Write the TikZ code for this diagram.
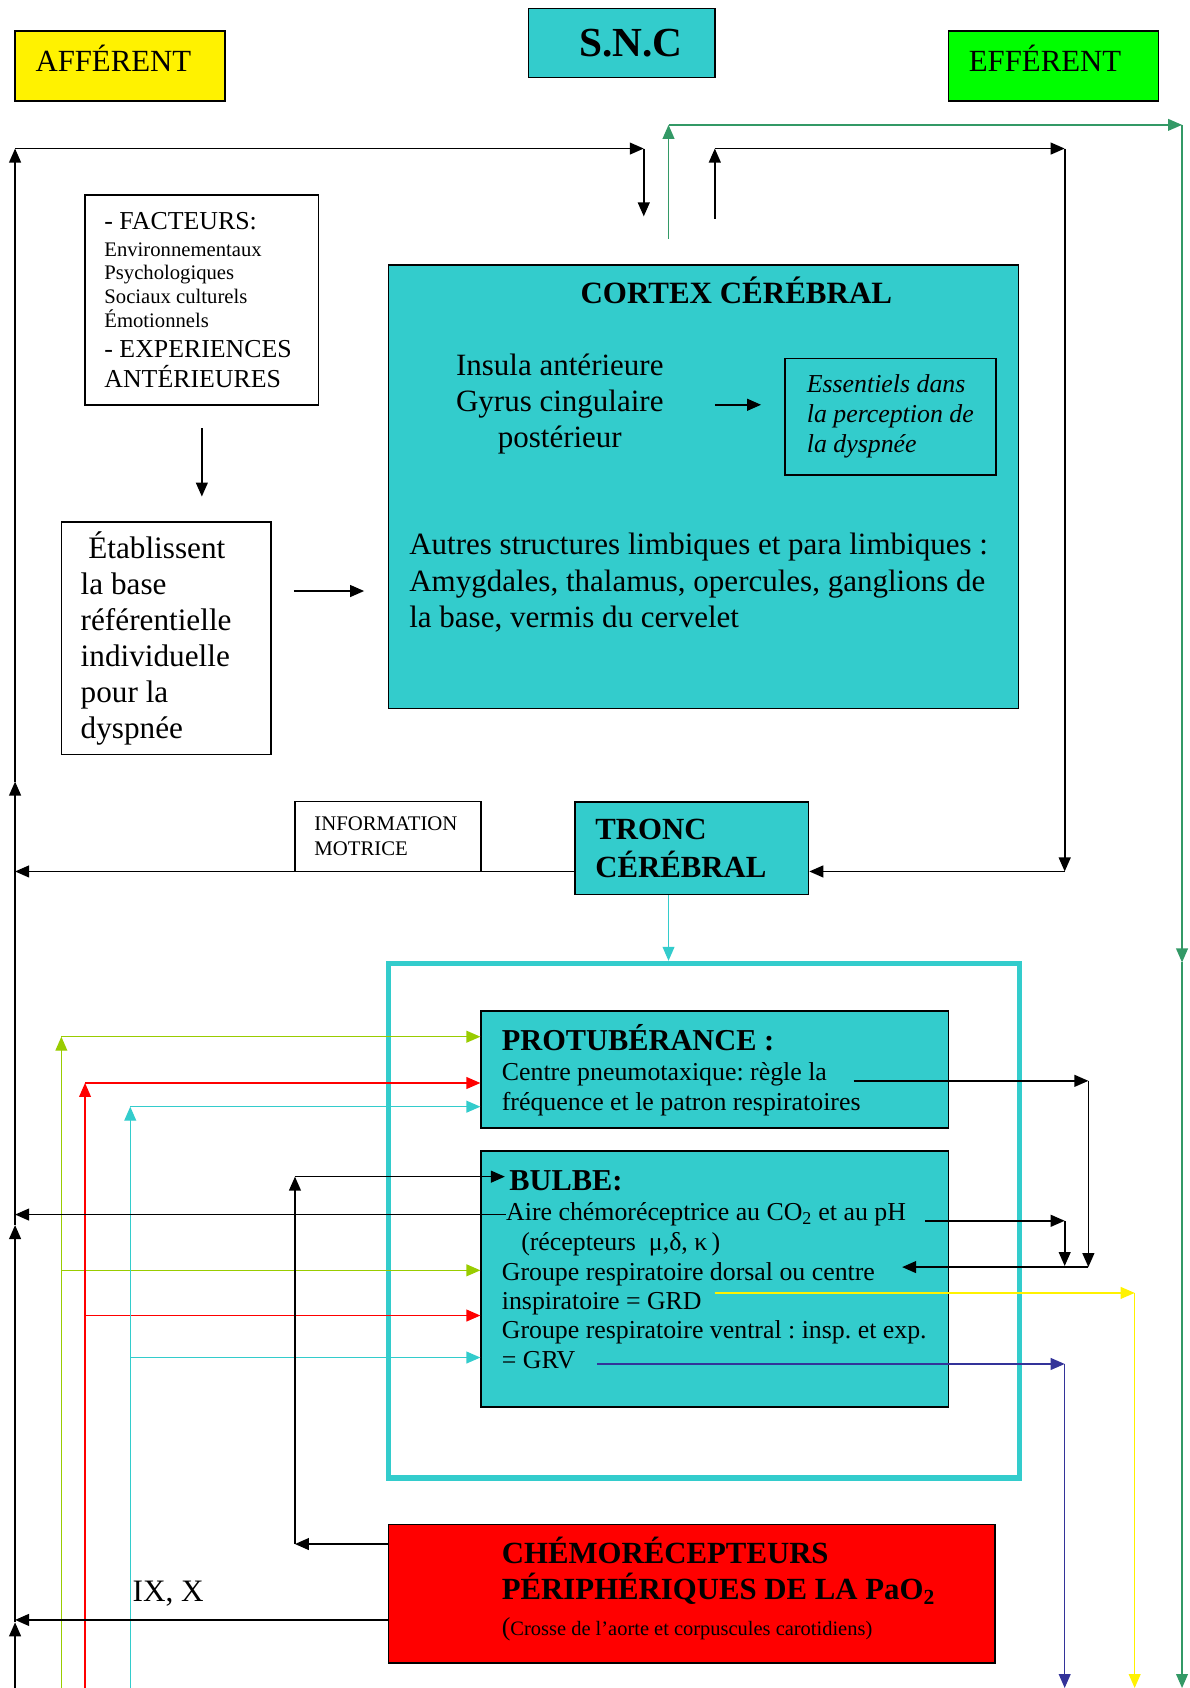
\documentclass[tikz,border=0pt]{standalone}
\usepackage{fontspec}
\setmainfont{Liberation Serif}
\usetikzlibrary{arrows.meta,positioning}
\frenchspacing

\definecolor{snccyan}{HTML}{33CCCC}
\definecolor{yelgreen}{HTML}{99CC00}
\definecolor{effgreen}{HTML}{339966}
\definecolor{grvblue}{HTML}{333399}

\newcommand{\wsp}{\spaceskip=0.25em minus 0.05em\relax}
\newcommand{\fsbig}{\fontsize{28.8pt}{33.5pt}\selectfont\wsp}
\newcommand{\fsmid}{\fontsize{24pt}{28pt}\selectfont\wsp}
\newcommand{\fssmall}{\fontsize{19.2pt}{22pt}\selectfont\wsp}

\begin{document}
\begin{tikzpicture}[x=1pt, y=-1pt, >={Triangle[length=13pt,width=11pt]},
  box/.style={draw, line width=1.5pt, inner ysep=0pt, align=left},
  txt/.style={anchor=base west, inner sep=0pt, align=left},
  arr/.style={->, line width=1.5pt},
  ygarr/.style={->, line width=1.2pt, yelgreen},
  rdarr/.style={->, line width=1.2pt, red},
  cyarr/.style={->, line width=1.2pt, snccyan},
  yearr/.style={->, line width=1.2pt, yellow},
  nvarr/.style={->, line width=1.2pt, grvblue},
  grarr/.style={->, line width=1.2pt, effgreen}]

  \useasboundingbox (0,0) rectangle (1105,1568);

  % en-tete
  \node[box, fill=yellow, text width=157pt, inner xsep=19pt, minimum height=65pt, text height=26pt, text depth=16pt, font=\fontsize{28.6pt}{33pt}\selectfont] (aff) at (111.5,61.5) {AFFÉRENT};
  \node[box, fill=snccyan, text width=113pt, inner xsep=30pt, align=right, minimum height=64pt, font=\fontsize{38.4pt}{44pt}\selectfont\bfseries] (snc) at (577.5,40) {S.N.C};
  \node[box, fill=green, text width=157pt, inner xsep=19pt, minimum height=65pt, text height=26pt, text depth=16pt, font=\fontsize{28.6pt}{33pt}\selectfont] (eff) at (978.5,61.5) {EFFÉRENT};

  % facteurs
  \node[box, text width=181pt, inner xsep=18pt, minimum height=195pt] (fact) at (187.5,278.5) {\fsmid -\hspace{6pt}FACTEURS:\\[3pt]\fssmall Environnementaux\\Psychologiques\\Sociaux culturels\\Émotionnels\\\fsmid -\hspace{6pt}EXPERIENCES\\[6pt]ANTÉRIEURES\fontsize{24pt}{22pt}\selectfont};
  \node[box, text width=159pt, inner xsep=18pt, minimum height=216pt, font=\fontsize{29pt}{33.4pt}\selectfont] (etab) at (154.5,593) {\wsp\hspace*{7pt}Établissent\\la base\\référentielle\\individuelle\\pour la\\dyspnée};

  % cortex
  \node[box, fill=snccyan, minimum width=585pt, minimum height=412pt] (cortex) at (653.5,452) {};
  \node[txt, anchor=base, font=\fsbig\bfseries] (cortitle) at (684,282) {CORTEX CÉRÉBRAL};
  \node[txt, anchor=base, text width=230pt, align=center, font=\fsbig] (insula) at (520,349) {\wsp Insula antérieure\\Gyrus cingulaire\\postérieur};
  \node[box, inner xsep=0pt, minimum width=196pt, minimum height=108pt, font=\fsmid\itshape] (ess) at (827,387) {Essentiels dans\\la perception de\\la dyspnée};
  \node[txt, text width=560pt, font=\fsbig] (autres) at (380,515.5) {\wsp Autres structures limbiques et para limbiques :\\Amygdales, thalamus, opercules, ganglions de\\la base, vermis du cervelet};

  % tronc
  \node[box, fill=white, text width=137pt, inner xsep=18pt, minimum height=65pt, font=\fontsize{19.3pt}{23pt}\selectfont] (info) at (360.5,777) {INFORMATION\\MOTRICE};
  \node[box, fill=snccyan, text width=179pt, inner xsep=19pt, minimum height=86pt, font=\fontsize{28.6pt}{35pt}\selectfont\bfseries] (tronc) at (642.5,788) {TRONC\\CÉRÉBRAL};

  % protuberance et bulbe
  \node[draw=snccyan, line width=5pt, minimum width=586pt, minimum height=478pt] (frame) at (654,1134) {};
  \node[box, fill=snccyan, minimum width=434pt, minimum height=109pt] (prot) at (664,993.5) {};
  \node[txt, font=\fontsize{28.2pt}{33pt}\selectfont\bfseries] (protitle) at (466,976) {\wsp PROTUBÉRANCE :};
  \node[txt, text width=400pt, font=\fsmid] (pneumo) at (466,1004) {\wsp Centre pneumotaxique: règle la\\fréquence et le patron respiratoires};
  \node[box, fill=snccyan, minimum width=434pt, minimum height=238pt] (bulbe) at (664,1188) {};
  \node[txt, font=\fontsize{28.2pt}{33pt}\selectfont\bfseries] (bultitle) at (473,1106) {BULBE:};
  \node[txt, font=\fsmid] (aire) at (470,1134) {\wsp Aire chémoréceptrice au CO\textsubscript{2} et au pH};
  \node[txt, font=\fsmid] (recep) at (484,1162) {\wsp(récepteurs\ \ μ,δ, κ\,)};
  \node[txt, text width=440pt, font=\fontsize{24pt}{27.3pt}\selectfont] (groupes) at (466,1189) {\wsp Groupe respiratoire dorsal ou centre\\inspiratoire = GRD\\Groupe respiratoire ventral : insp. et exp.\\= GRV};

  % chemorecepteurs
  \node[box, fill=red, minimum width=563pt, minimum height=129pt] (chemo) at (642.5,1480.5) {};
  \node[txt, text width=440pt, font=\fontsize{28.6pt}{34pt}\selectfont\bfseries] (chemotext) at (466,1452) {\wsp CHÉMORÉCEPTEURS\\PÉRIPHÉRIQUES DE LA PaO\textsubscript{2}\par{\normalfont\fontsize{24pt}{33pt}\selectfont(\fontsize{19pt}{33pt}\selectfont\wsp Crosse de l’aorte et corpuscules carotidiens)\par}};
  \node[txt, font=\fontsize{29pt}{33pt}\selectfont] (nerfs) at (123,1488) {\wsp IX, X};

  % points de passage
  \coordinate (lbot) at (14,1568);
  \coordinate (lup1) at (14,1507);
  \coordinate (lup2) at (14,1138);
  \coordinate (lup3) at (14,726);
  \coordinate (ltop) at (14,138);
  \coordinate (sncin) at (598,138);
  \coordinate (sncdown) at (598,201);
  \coordinate (sncout) at (664,203);
  \coordinate (sncup) at (664,138);
  \coordinate (rtop) at (989,138);
  \coordinate (rdown) at (989,809.5);
  \coordinate (grbase) at (621,222);
  \coordinate (grup) at (621,116);
  \coordinate (grtop) at (1098,116);
  \coordinate (grmid) at (1098,894);
  \coordinate (grbot) at (1098,1568);
  \coordinate (insa) at (664,376);
  \coordinate (insb) at (707,376);
  \coordinate (etabout) at (273,549);

  % boucle afferente / efferente du haut
  \draw[arr] (lbot) -- (lup1);
  \draw[arr] (lup1) -- (lup2);
  \draw[arr] (lup2) -- (lup3);
  \draw[arr] (lup3) -- (ltop);
  \draw[arr] (ltop) -- (sncin);
  \draw[arr] (sncin) -- (sncdown);
  \draw[arr] (sncout) -- (sncup);
  \draw[arr] (sncup) -- (rtop);
  \draw[arr] (rtop) -- (rdown);
  \draw[arr] (rdown) -- (rdown -| tronc.east);
  \draw[arr] (tronc.west |- rdown) -- (lbot |- rdown);
  \draw[grarr] (grbase) -- (grup);
  \draw[grarr] (grup) -- (grtop);
  \draw[grarr] (grtop) -- (grmid);
  \draw[grarr] (grmid) -- (grbot);
  \draw[cyarr] (tronc.south -| grbase) -- (frame.north -| grbase);

  % cortex
  \draw[arr] (insa) -- (insb);
  \draw[arr] ([yshift=-21pt]fact.south) -- ([yshift=23pt]fact.south |- etab.north);
  \draw[arr] (etabout) -- ([xshift=-22pt]cortex.west |- etabout);

  % entrees colorees
  \coordinate (ygbot) at (57,1568);
  \coordinate (ygup) at (57,963);
  \coordinate (ygmid) at (57,1180);
  \coordinate (rdbot) at (79,1568);
  \coordinate (rdup) at (79,1006);
  \coordinate (rdmid) at (79,1222);
  \coordinate (cybot) at (121,1568);
  \coordinate (cyup) at (121,1028);
  \coordinate (cymid) at (121,1261);
  \draw[ygarr] (ygbot) -- (ygup);
  \draw[ygarr] (ygup) -- (ygup -| prot.west);
  \draw[ygarr] (ygmid) -- (ygmid -| bulbe.west);
  \draw[rdarr] (rdbot) -- (rdup);
  \draw[rdarr] (rdup) -- (rdup -| prot.west);
  \draw[rdarr] (rdmid) -- (rdmid -| bulbe.west);
  \draw[cyarr] (cybot) -- (cyup);
  \draw[cyarr] (cyup) -- (cyup -| prot.west);
  \draw[cyarr] (cymid) -- (cymid -| bulbe.west);

  % chemorecepteurs vers bulbe et vers la gauche
  \coordinate (bkup) at (274,1093);
  \coordinate (bkend) at (469,1093);
  \draw[arr] ([yshift=-19pt]chemo.north west) coordinate (cha) -- (cha -| bkup);
  \draw[arr] (cha -| bkup) -- (bkup);
  \draw[arr] (bkup) -- (bkend);
  \draw[arr] ([yshift=41pt]chemo.south west) coordinate (chb) -- (chb -| lbot);
  \draw[arr] (aire.west) -- (aire.west -| lbot);

  % sorties a droite
  \coordinate (pna) at (793,1004);
  \coordinate (pnb) at (1011,1004);
  \coordinate (pnc) at (1011,1177);
  \coordinate (aia) at (859,1134);
  \coordinate (aib) at (989,1134);
  \coordinate (aic) at (989,1176);
  \coordinate (grdin) at (838,1177);
  \draw[arr] (pna) -- (pnb);
  \draw[arr] (pnb) -- (pnc);
  \draw[arr] (aia) -- (aib);
  \draw[arr] (aib) -- (aic);
  \draw[arr] (pnc) -- (grdin);
  \coordinate (yea) at (664,1201);
  \coordinate (yeb) at (1054,1201);
  \coordinate (yec) at (1054,1568);
  \coordinate (nva) at (555,1267);
  \coordinate (nvb) at (989,1267);
  \coordinate (nvc) at (989,1568);
  \draw[yearr] (yea) -- (yeb);
  \draw[yearr] (yeb) -- (yec);
  \draw[nvarr] (nva) -- (nvb);
  \draw[nvarr] (nvb) -- (nvc);
\end{tikzpicture}
\end{document}
